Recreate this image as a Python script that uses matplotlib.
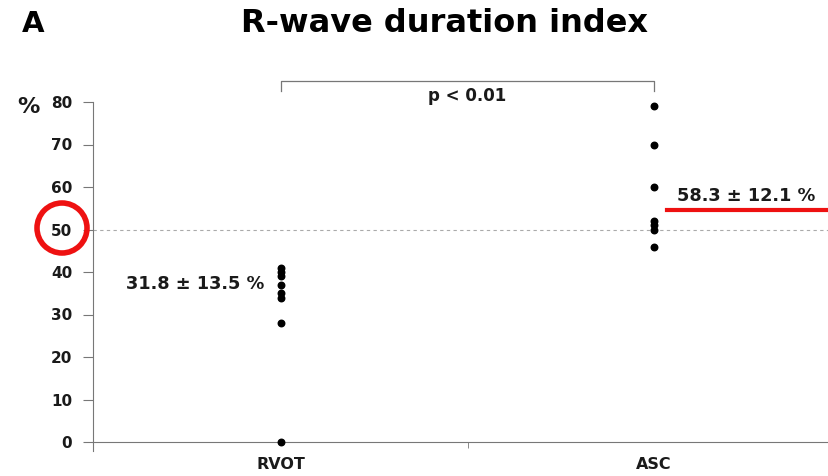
import matplotlib.pyplot as plt
from matplotlib.patches import Ellipse

plt.rcParams['font.family'] = ['DejaVu Sans']

# data
groups = ['RVOT', 'ASC']
rvot = [41, 40, 39, 37, 35, 34, 28, 0]
asc = [79, 70, 60, 52, 51, 50, 46]
yticks = [0, 10, 20, 30, 40, 50, 60, 70, 80]
rvot_label = '31.8 ± 13.5 %'
asc_label = '58.3 ± 12.1 %'
p_label = 'p < 0.01'
threshold = 50

fig = plt.figure(figsize=(8.29, 4.76), dpi=100)
ax = fig.add_axes([93 / 829, 34 / 476, 736 / 829, 340 / 476])
ax.set_xlim(0.496, 2.469)
ax.set_ylim(0, 80)

grey = '#777777'
txt = '#1a1a1a'
for s in ['top', 'right']:
    ax.spines[s].set_visible(False)
ax.spines['left'].set_color(grey)
ax.spines['bottom'].set_color(grey)
ax.spines['left'].set_bounds(-2, 80)

# dots
ax.scatter([1] * len(rvot), rvot, s=22, color='black', zorder=3, clip_on=False)
ax.scatter([2] * len(asc), asc, s=22, color='black', zorder=3, clip_on=False)

# 50 % reference line
ax.axhline(threshold, color='#aaaaaa', ls=(0, (3, 3)), lw=0.8)

ax.set_yticks(yticks)
ax.set_yticklabels([str(v) for v in yticks], fontweight='bold', fontsize=11, color=txt)
ax.tick_params(axis='y', length=7, color=grey, pad=8)
ax.set_xticks([1, 2])
ax.set_xticklabels(groups, fontweight='bold', fontsize=11.5, color=txt)
ax.tick_params(axis='x', length=0, pad=11)
ax.set_xticks([1.5], minor=True)
ax.tick_params(axis='x', which='minor', length=4, color=grey, direction='out')

# significance bracket
ax.plot([1, 1, 2, 2], [82.5, 85, 85, 82.5], color=grey, lw=0.9, clip_on=False)
ax.text(1.5, 81.3, p_label, ha='center', va='center', fontweight='bold', fontsize=12, color=txt)

ax.text(0.77, 37.2, rvot_label, ha='center', va='center', fontweight='bold', fontsize=12.8, color=txt)
ax.text(2.248, 57.9, asc_label, ha='center', va='center', fontweight='bold', fontsize=12.8, color=txt)
ax.plot([2.035, 2.465], [54.7, 54.7], color='#ee1111', lw=3, clip_on=False)

fig.text(33 / 829, 1 - 24 / 476, 'A', fontweight='bold', fontsize=21, ha='center', va='center')
fig.text(445 / 829, 1 - 24 / 476, 'R-wave duration index', fontweight='bold', fontsize=23,
         ha='center', va='center')
fig.text(28 / 829, 1 - 107 / 476, '%', fontweight='bold', fontsize=16, ha='center', va='center',
         color=txt)

# red circle around the 50 label
circ = Ellipse((62 / 829, 1 - 228 / 476), 50 / 829, 50 / 476, transform=fig.transFigure,
               fill=False, edgecolor='#ee1111', lw=4)
fig.patches.append(circ)

fig.savefig('out.png', dpi=100)
